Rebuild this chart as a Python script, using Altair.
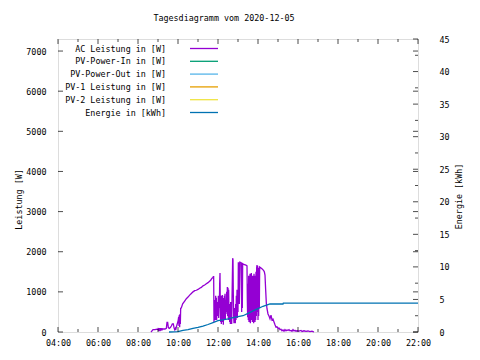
import altair as alt
import pandas as pd

# ---------------- data ----------------
ac_time = ["08:39","08:42","08:45","08:51","08:57","09:00","09:01","09:02","09:03","09:04",
           "09:05","09:06","09:07","09:08","09:09","09:10","09:11","09:12","09:13","09:15",
           "09:21","09:25","09:27","09:29","09:31","09:34","09:37","09:40","09:43","09:46",
           "09:48","09:50","09:52","09:53","09:55","09:57","10:00","10:02","10:03","10:04",
           "10:05","10:06","10:07","10:08","10:10","10:14","10:20","10:25","10:30","10:35",
           "10:40","10:45","10:50","10:55","11:00","11:05","11:10","11:15","11:20","11:25",
           "11:30","11:34","11:38","11:42","11:44","11:46","11:47","11:48","11:49","11:50",
           "11:51","11:52","11:53","11:54","11:55","11:56","11:57","11:58","11:59","12:00",
           "12:01","12:02","12:03","12:04","12:05","12:06","12:07","12:08","12:09","12:10",
           "12:11","12:12","12:13","12:14","12:15","12:16","12:17","12:18","12:19","12:20",
           "12:21","12:22","12:23","12:24","12:26","12:27","12:28","12:29","12:30","12:31",
           "12:32","12:33","12:34","12:35","12:36","12:37","12:38","12:39","12:40","12:41",
           "12:42","12:43","12:44","12:45","12:46","12:47","12:48","12:49","12:50","12:51",
           "12:52","12:53","12:54","12:55","12:56","12:57","12:58","12:59","13:00","13:01",
           "13:02","13:03","13:04","13:05","13:06","13:08","13:10","13:11","13:12","13:13",
           "13:14","13:16","13:19","13:22","13:25","13:27","13:28","13:29","13:30","13:31",
           "13:32","13:33","13:34","13:35","13:36","13:37","13:38","13:39","13:40","13:41",
           "13:42","13:43","13:44","13:45","13:46","13:47","13:48","13:49","13:50","13:51",
           "13:52","13:53","13:54","13:55","13:56","13:57","13:58","13:59","14:00","14:01",
           "14:02","14:03","14:04","14:05","14:08","14:11","14:14","14:17","14:19","14:21",
           "14:23","14:25","14:27","14:30","14:33","14:36","14:39","14:42","14:45","14:48",
           "14:51","14:54","14:57","15:00","15:03","15:06","15:09","15:12","15:15","15:18",
           "15:21","15:24","15:27","15:30","15:33","15:36","15:39","15:42","15:45","15:48",
           "15:51","15:54","15:57","16:03","16:09","16:12","16:18","16:24","16:30","16:36",
           "16:42","16:45","16:48"]
ac_power = [0,30,60,60,70,60,100,20,90,30,
            100,20,100,30,100,40,90,40,80,75,
            75,90,240,240,110,90,110,150,200,200,
            110,60,90,50,120,180,260,380,150,420,
            120,450,200,590,600,700,770,830,870,920,
            960,1000,1030,1040,1060,1090,1110,1150,1170,1200,
            1230,1260,1290,1340,1350,1380,1380,250,700,350,
            800,300,900,400,850,300,750,400,700,450,
            900,350,800,600,1200,1470,600,250,900,200,
            800,350,920,250,700,180,850,300,900,400,
            950,300,800,450,1000,500,1120,400,1100,300,
            1050,350,700,250,600,200,750,300,550,200,
            800,1300,1840,1800,900,400,220,600,250,500,
            220,700,300,900,400,1050,350,1000,500,1740,
            1100,1740,700,1200,1740,1730,1720,500,1710,600,
            1700,1690,1680,1670,1660,1650,800,370,1200,300,
            1400,250,1300,400,1450,220,1200,350,1470,300,
            1350,250,1400,400,1300,220,1450,350,1250,250,
            1400,300,1500,400,1600,1670,500,1650,300,1550,
            400,1600,600,1620,1600,1580,1560,1530,1500,1420,
            1050,720,580,450,400,330,420,300,320,250,
            180,120,130,90,100,60,70,30,50,20,
            60,30,50,40,60,30,40,20,60,25,
            40,20,30,20,40,15,30,15,25,10,
            20,10,0]

en_time = ["09:33","10:00","10:06","10:15","10:30","10:45","11:00","11:15","11:30","11:45",
           "12:00","12:15","12:30","12:45","13:00","13:15","13:30","13:45","14:00","14:15",
           "14:30","14:36","15:15","15:16","22:00"]
en_kwh = [0,0.05,0.15,0.25,0.35,0.55,0.7,0.9,1.15,1.45,
          1.75,1.85,2.0,2.2,2.35,2.5,2.85,3.25,3.6,3.95,
          4.2,4.3,4.3,4.45,4.45]

legend_labels = ["AC Leistung in [W]", "PV-Power-In in [W]", "PV-Power-Out in [W]",
                 "PV-1 Leistung in [W]", "PV-2 Leistung in [W]", "Energie in [kWh]"]
legend_colors = ["#9400d3", "#009e73", "#56b4e9", "#e69f00", "#f0e442", "#0072b2"]

x_major = [4, 6, 8, 10, 12, 14, 16, 18, 20, 22]
x_minor = [5, 7, 9, 11, 13, 15, 17, 19, 21]
power_ticks = [0, 1000, 2000, 3000, 4000, 5000, 6000, 7000]
energy_major = [0, 5, 10, 15, 20, 25, 30, 35, 40, 45]
energy_minor = [2.5, 7.5, 12.5, 17.5, 22.5, 27.5, 32.5, 37.5, 42.5]

title_text = "Tagesdiagramm vom 2020-12-05"


def to_h(t):
    hh, mm = t.split(":")
    return int(hh) + int(mm) / 60.0


ac_df = pd.DataFrame({"h": [to_h(t) for t in ac_time], "w": ac_power})
en_df = pd.DataFrame({"h": [to_h(t) for t in en_time], "kwh": en_kwh})

# ---------------- layout ----------------
W, H = 360, 293
FONT = "DejaVu Sans Mono"
FS = 8.4
LW = 1.3

xs = alt.Scale(domain=[4, 22], nice=False, zero=False)
ps = alt.Scale(domain=[0, 7300], nice=False)
es = alt.Scale(domain=[0, 45], nice=False)

x_axis = alt.Axis(values=x_major, labelExpr="(datum.value < 10 ? '0' : '') + datum.value + ':00'",
                  title=None, ticks=False, domain=False, grid=False, labelPadding=6,
                  labelFont=FONT, labelFontSize=FS, labelColor="black", labelFlush=False)
left_axis = alt.Axis(values=power_ticks, format="d", title="Leistung [W]", ticks=False, domain=False,
                     grid=False, labelPadding=12, labelFont=FONT, labelFontSize=FS, labelColor="black",
                     titleFont=FONT, titleFontSize=FS, titleFontWeight="normal", titleColor="black",
                     titleAngle=270, titleX=-40, titleY=160, titleAlign="center", titleBaseline="middle")
right_axis = alt.Axis(values=energy_major, format="d", orient="right", title="Energie [kWh]", ticks=False,
                      domain=False, grid=False, labelPadding=21, labelAlign="left",
                      labelFont=FONT, labelFontSize=FS, labelColor="black",
                      titleFont=FONT, titleFontSize=FS, titleFontWeight="normal", titleColor="black",
                      titleAngle=270, titleX=40, titleY=157, titleAlign="center", titleBaseline="middle")

x_enc = alt.X("h:Q", scale=xs, axis=x_axis)

ac_line = alt.Chart(ac_df).mark_line(color="#9400d3", strokeWidth=LW).encode(
    x=x_enc, y=alt.Y("w:Q", scale=ps, axis=left_axis))

en_line = alt.Chart(en_df).mark_line(color="#0072b2", strokeWidth=LW).encode(
    x=x_enc, y=alt.Y("kwh:Q", scale=es, axis=right_axis))

# inward ticks (gnuplot style)
xmaj_df = pd.DataFrame({"h": x_major})
xmin_df = pd.DataFrame({"h": x_minor})
xt_bot = alt.Chart(xmaj_df).mark_tick(orient="vertical", color="black", size=5, thickness=1).encode(
    x=x_enc, y=alt.value(H - 2.5))
xt_top = alt.Chart(xmaj_df).mark_tick(orient="vertical", color="black", size=5, thickness=1).encode(
    x=x_enc, y=alt.value(2.5))
xtm_bot = alt.Chart(xmin_df).mark_tick(orient="vertical", color="black", size=3, thickness=1).encode(
    x=x_enc, y=alt.value(H - 1.5))
xtm_top = alt.Chart(xmin_df).mark_tick(orient="vertical", color="black", size=3, thickness=1).encode(
    x=x_enc, y=alt.value(1.5))

pt_df = pd.DataFrame({"w": power_ticks})
pt_left = alt.Chart(pt_df).mark_tick(orient="horizontal", color="black", size=5, thickness=1).encode(
    y=alt.Y("w:Q", scale=ps, axis=None), x=alt.value(2.5))
pt_right = alt.Chart(pt_df).mark_tick(orient="horizontal", color="black", size=5, thickness=1).encode(
    y=alt.Y("w:Q", scale=ps, axis=None), x=alt.value(W - 2.5))

emaj_df = pd.DataFrame({"kwh": energy_major})
emin_df = pd.DataFrame({"kwh": energy_minor})
et_maj = alt.Chart(emaj_df).mark_tick(orient="horizontal", color="black", size=5, thickness=1).encode(
    y=alt.Y("kwh:Q", scale=es, axis=None), x=alt.value(W - 2.5))
et_min = alt.Chart(emin_df).mark_tick(orient="horizontal", color="black", size=3, thickness=1).encode(
    y=alt.Y("kwh:Q", scale=es, axis=None), x=alt.value(W - 1.5))

# legend (gnuplot style: right-aligned label, line sample to the right)
leg_df = pd.DataFrame({"label": legend_labels, "color": legend_colors,
                       "ypix": [9.5 + 12.8 * i for i in range(len(legend_labels))]})
leg_text = alt.Chart(leg_df).mark_text(align="right", baseline="middle", font=FONT, fontSize=FS,
                                       color="black").encode(
    text="label:N", x=alt.value(108), y=alt.Y("ypix:Q", scale=None, axis=None))
leg_rule = alt.Chart(leg_df).mark_rule(strokeWidth=LW).encode(
    x=alt.value(132), x2=alt.value(160), y=alt.Y("ypix:Q", scale=None, axis=None),
    color=alt.Color("color:N", scale=None, legend=None))

title = alt.Chart(pd.DataFrame({"t": [title_text]})).mark_text(
    align="center", baseline="middle", font=FONT, fontSize=FS, color="black").encode(
    text="t:N", x=alt.value(166), y=alt.value(-21.5))

chart = alt.layer(
    ac_line, en_line, xt_bot, xt_top, xtm_bot, xtm_top, pt_left, pt_right, et_maj, et_min,
    leg_rule, leg_text, title
).resolve_scale(y="independent").properties(
    width=W, height=H,
    padding={"left": 50, "top": 31, "right": 54, "bottom": 20},
    autosize=alt.AutoSizeParams(type="none"),
).configure_view(stroke="black", strokeWidth=1).configure(background="white")

chart.save("out.html", embed_options={"renderer": "svg", "actions": False})
